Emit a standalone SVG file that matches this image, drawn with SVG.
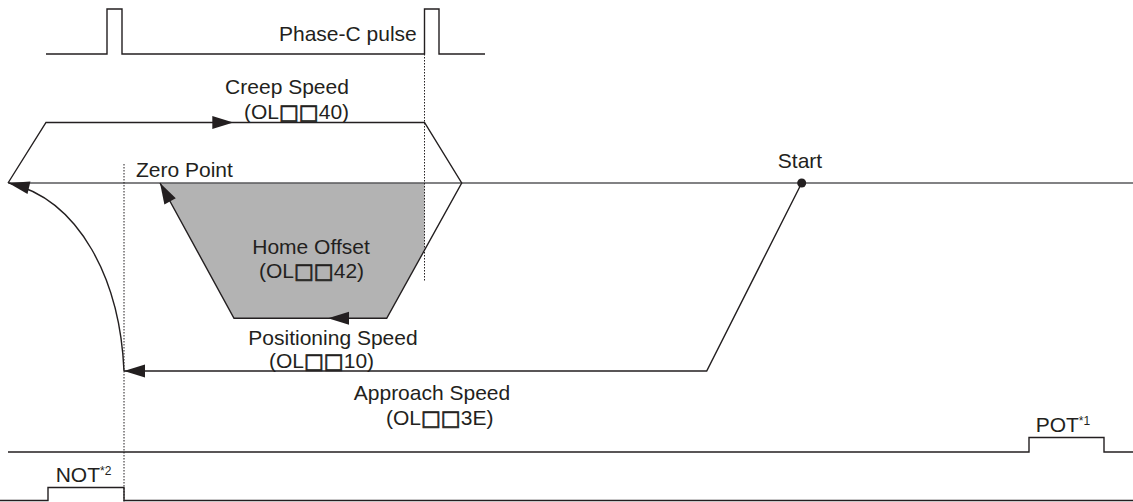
<svg xmlns="http://www.w3.org/2000/svg" width="1133" height="502" viewBox="0 0 1133 502">
<style>
  text { font-family: "Liberation Sans", "DejaVu Sans", Arial, sans-serif; font-size: 21px; fill: #231f20; }
  .sq { font-family: "DejaVu Sans", sans-serif; font-size: 21px; stroke: #231f20; stroke-width: 0.7; }
  .sig { fill: none; stroke: #231f20; stroke-width: 1.4; }
  .axis { fill: none; stroke: #58595b; stroke-width: 1.6; }
  .dot { fill: none; stroke: #231f20; stroke-width: 1; stroke-dasharray: 1.5 1.5; }
  .mid { text-anchor: middle; }
  .sup { font-size: 12px; }
  .ah { fill: #231f20; }
</style>
<defs>
  <path id="ah" d="M0,0 L-21,-6.5 L-21,6.5 Z"/>
</defs>
<rect width="1133" height="502" fill="#ffffff"/>
<g id="home-offset-area">
  <polygon points="160,183 424.5,183 424.5,249 386.7,318.3 234,318.3" fill="#b3b3b3"/>
</g>
<g id="axis">
  <line class="axis" x1="8" y1="183" x2="1133" y2="183"/>
</g>
<g id="phase-c">
  <path class="sig" d="M46,54 L107,54 L107,9 L122,9 L122,54 L424.5,54 L424.5,9 L439,9 L439,54 L485,54"/>
  <text x="279" y="41">Phase-C pulse</text>
</g>
<g id="pot">
  <path class="sig" d="M8,452 L1029,452 L1029,437.5 L1104,437.5 L1104,452 L1133,452"/>
  <text x="1035.7" y="432">POT<tspan class="sup" dy="-7">*1</tspan></text>
</g>
<g id="not">
  <path class="sig" d="M0,500.5 L48,500.5 L48,487.5 L124,487.5 L124,500.5 L1133,500.5"/>
  <text x="55.7" y="481.7">NOT<tspan class="sup" dy="-7">*2</tspan></text>
</g>
<g id="guides">
  <line class="dot" x1="424.5" y1="54" x2="424.5" y2="281"/>
  <line class="dot" x1="124" y1="164" x2="124" y2="502"/>
</g>
<g id="connectors">
  <path class="sig" d="M801.7,183 L706.7,371 L124,371"/>
  <path class="sig" d="M124,371 C120,280 80,200 9,183"/>
  <path class="sig" d="M8,183 L46,122.5 L424.5,122.5 L461.7,183 L386.7,318.3 L234,318.3 L160,183"/>
  <use href="#ah" class="ah" transform="translate(233.3,122.5)"/>
  <use href="#ah" class="ah" transform="translate(160,183) rotate(-118.7)"/>
  <use href="#ah" class="ah" transform="translate(328,318.3) rotate(180)"/>
  <use href="#ah" class="ah" transform="translate(124,371) rotate(180)"/>
  <use href="#ah" class="ah" transform="translate(8.5,183) rotate(193)"/>
</g>
<g id="start">
  <circle cx="801.7" cy="183" r="4.5" fill="#231f20"/>
  <text class="mid" x="800" y="168">Start</text>
</g>
<g id="labels">
  <text x="136" y="177">Zero Point</text>
  <text class="mid" x="287" y="94">Creep Speed</text>
  <text x="244" y="119">(OL<tspan class="sq">□□</tspan>40)</text>
  <text class="mid" x="311" y="254">Home Offset</text>
  <text x="259" y="278">(OL<tspan class="sq">□□</tspan>42)</text>
  <text class="mid" x="333" y="345">Positioning Speed</text>
  <text x="269" y="368">(OL<tspan class="sq">□□</tspan>10)</text>
  <text class="mid" x="432" y="400">Approach Speed</text>
  <text x="386" y="425">(OL<tspan class="sq">□□</tspan>3E)</text>
</g>
</svg>
